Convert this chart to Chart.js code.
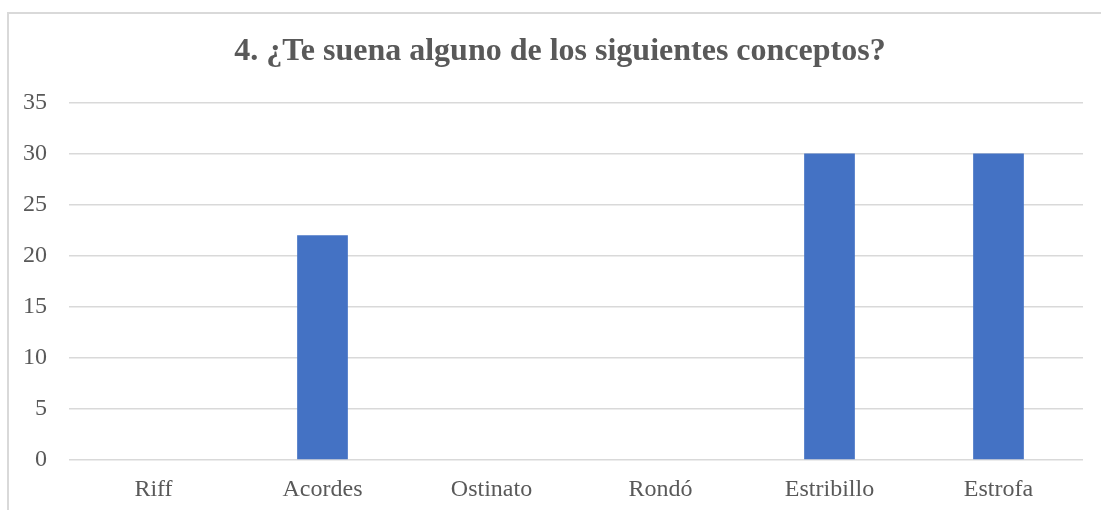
<!DOCTYPE html>
<html>
<head>
<meta charset="utf-8">
<script src="https://cdn.jsdelivr.net/npm/chart.js@4"></script>
<style>
  html, body { margin: 0; padding: 0; background: #fff; overflow: hidden; }
  #wrap { position: relative; width: 1101px; height: 510px; }
</style>
</head>
<body>
<div id="wrap"><canvas id="myChart"></canvas></div>
<script>
const categories = ['Riff', 'Acordes', 'Ostinato', 'Rondó', 'Estribillo', 'Estrofa'];
const values = [0, 22, 0, 0, 30, 30];
const titleText = '4. ¿Te suena alguno de los siguientes conceptos?';

const ctx = document.getElementById('myChart');
const serif = '"Liberation Serif", "Times New Roman", serif';

// light grey outline of the chart box (top and left edges visible),
// and center the title over the box rather than the whole canvas
const frame = {
  id: 'frame',
  afterLayout(chart) {
    if (chart.titleBlock) chart.titleBlock.left = 37;
  },
  beforeDraw(chart) {
    const c = chart.ctx;
    c.save();
    c.strokeStyle = '#d9d9d9';
    c.lineWidth = 2;
    c.beginPath();
    c.moveTo(8, chart.height);
    c.lineTo(8, 13);
    c.lineTo(chart.width, 13);
    c.stroke();
    c.restore();
  }
};

new Chart(ctx, {
  type: 'bar',
  data: {
    labels: categories,
    datasets: [{
      label: 'Serie 1',
      data: values,
      backgroundColor: '#4472C4',
      barPercentage: 0.3,
      categoryPercentage: 1
    }]
  },
  options: {
    responsive: true,
    maintainAspectRatio: false,
    animation: false,
    layout: { padding: { top: 12, right: 18, bottom: 6, left: 0 } },
    plugins: {
      legend: { display: false },
      tooltip: { enabled: false },
      title: {
        display: true,
        text: titleText,
        color: '#595959',
        font: { family: serif, size: 32, weight: 'bold' },
        padding: { top: 21, bottom: 31 }
      }
    },
    scales: {
      x: {
        grid: { display: false, drawTicks: false },
        border: { display: false },
        ticks: { color: '#595959', font: { family: serif, size: 24 }, padding: 15 },
        afterFit: (scale) => { scale.height = 44; }
      },
      y: {
        min: 0,
        max: 35,
        ticks: { stepSize: 5, color: '#595959', font: { family: serif, size: 24 }, padding: 22 },
        grid: { color: '#d9d9d9', lineWidth: 1.5, drawTicks: false },
        border: { display: false },
        afterFit: (scale) => { scale.width = 69; }
      }
    }
  },
  plugins: [frame]
});
</script>
</body>
</html>
